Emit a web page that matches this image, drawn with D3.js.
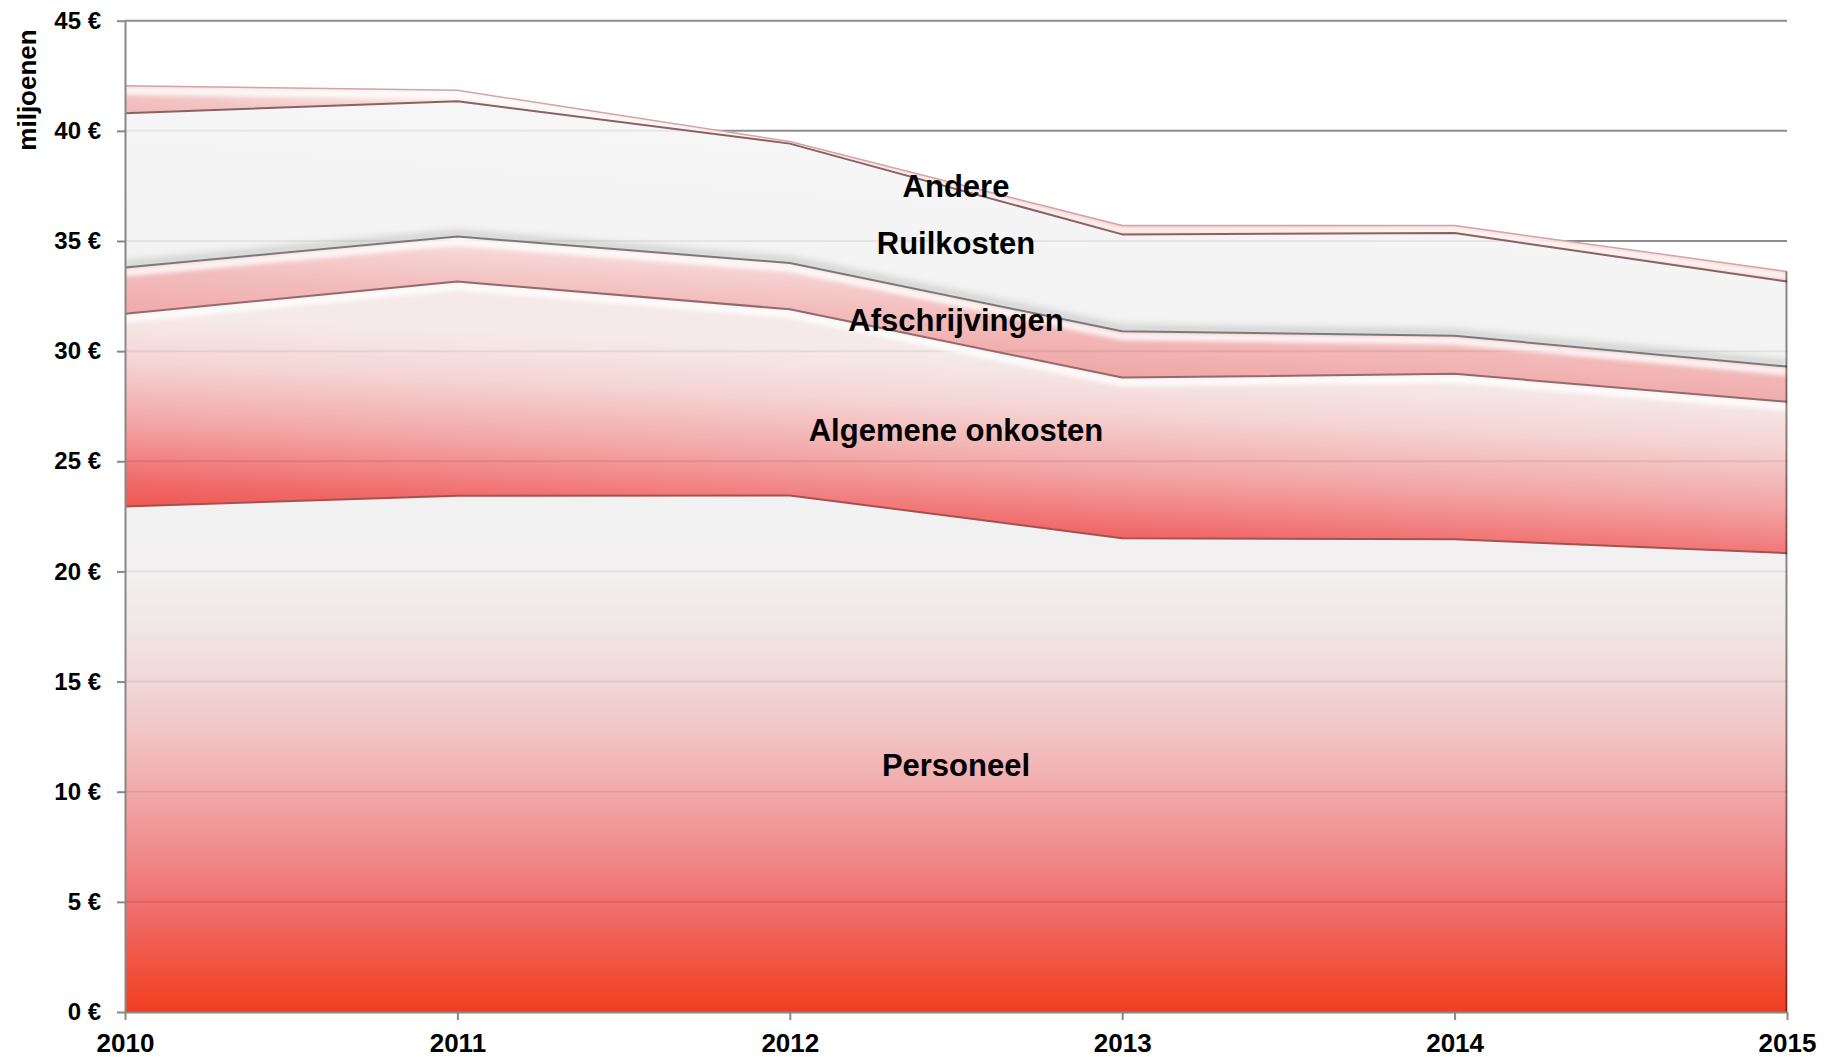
<!DOCTYPE html>
<html><head><meta charset="utf-8">
<script src="https://cdn.jsdelivr.net/npm/d3@7"></script>
<style>
html,body{margin:0;padding:0;background:#fff;}
svg{display:block;}
text{font-family:"Liberation Sans",Arial,Helvetica,sans-serif;font-weight:bold;fill:#000;}
</style></head><body>
<svg id="chart" width="1837" height="1057"></svg>
<script>
// ---------- data ----------
const years = [2010, 2011, 2012, 2013, 2014, 2015];
const seriesNames = ["Personeel", "Algemene onkosten", "Afschrijvingen", "Ruilkosten", "Andere"];
const personeel        = [22.95, 23.43, 23.45, 21.51, 21.46, 20.83];
const algemeneOnkosten = [8.75, 9.73, 8.45, 7.29, 7.51, 6.87];
const afschrijvingen   = [2.10, 2.04, 2.10, 2.10, 1.73, 1.60];
const ruilkosten       = [7.00, 6.14, 5.42, 4.40, 4.66, 3.86];
const andere           = [1.25, 0.50, 0.10, 0.40, 0.34, 0.46];
const yTickValues = [0, 5, 10, 15, 20, 25, 30, 35, 40, 45];
const yTickLabels = ["0 €", "5 €", "10 €", "15 €", "20 €", "25 €", "30 €", "35 €", "40 €", "45 €"];
const xTickLabels = ["2010", "2011", "2012", "2013", "2014", "2015"];
const yAxisTitle = "miljoenen";

// ---------- styles ----------
const OPACITY = 0.87;
const styles = {
  "Personeel": {tilt:0, stops:[[0,"#F03E1E"],[0.05,"#F04A30"],[0.11,"#F05848"],[0.21,"#F07070"],[0.32,"#F08E8E"],[0.43,"#F1AAAA"],[0.53,"#F2C2C2"],[0.64,"#F1D8D8"],[0.75,"#F1E7E7"],[0.85,"#F2F0F0"],[1,"#F2F2F2"]],
                highlight:false, edge:"#A85050"},
  "Algemene onkosten": {tilt:1.25, anchorLeft:true, stops:[[0,"#EF5850"],[0.12,"#F06868"],[0.25,"#F28282"],[0.45,"#F3A8A8"],[0.6,"#F4BEBE"],[0.75,"#F5D4D4"],[0.9,"#F5E2E2"],[1,"#F5E9E9"]],
                highlight:true, edge:"#946A6A"},
  "Afschrijvingen": {tilt:1, stops:[[0,"#F0A6A6"],[0.5,"#F3BDBD"],[0.85,"#F6D4D4"],[1,"#F8E8E8"]],
                highlight:true, edge:"#7A7A7A"},
  "Ruilkosten": {tilt:1, stops:[[0,"#F2F2F2"],[1,"#F6F6F6"]],
                highlight:false, shadowBottom:true, edge:"#8A6262"},
  "Andere": {tilt:1, stops:[[0,"#F0AEAE"],[0.45,"#F3C4C4"],[1,"#FBF2F2"]],
                highlight:true, edge:"#D4A4A4"}
};
function pre(hex){
  const c = d3.rgb(hex);
  const f = v => Math.max(0, Math.min(255, (v - 255*(1-OPACITY))/OPACITY));
  return d3.rgb(f(c.r), f(c.g), f(c.b)).formatHex();
}

// ---------- build ----------
const rows = years.map((yr, i) => ({
  year: yr,
  "Personeel": personeel[i],
  "Algemene onkosten": algemeneOnkosten[i],
  "Afschrijvingen": afschrijvingen[i],
  "Ruilkosten": ruilkosten[i],
  "Andere": andere[i]
}));
const stacked = d3.stack().keys(seriesNames)(rows);

const svg = d3.select("#chart");
const x = d3.scaleLinear().domain([2010, 2015]).range([125, 1787]);
const y = d3.scaleLinear().domain([0, 45]).range([1012, 20.7]);

const defs = svg.append("defs");
defs.append("filter").attr("id","blur2").attr("filterUnits","userSpaceOnUse")
  .attr("x",0).attr("y",0).attr("width",1837).attr("height",1057)
  .append("feGaussianBlur").attr("stdDeviation",2);
defs.append("filter").attr("id","blur3").attr("filterUnits","userSpaceOnUse")
  .attr("x",0).attr("y",0).attr("width",1837).attr("height",1057)
  .append("feGaussianBlur").attr("stdDeviation",3);

// gridlines
svg.append("g").selectAll("line").data(yTickValues.filter(v => v > 0)).join("line")
  .attr("x1", x(2010)).attr("x2", x(2015))
  .attr("y1", d => y(d)).attr("y2", d => y(d))
  .attr("stroke", "#8C8C8C").attr("stroke-width", 2);

const area = d3.area().x(d => x(d.data.year)).y0(d => y(d[0])).y1(d => y(d[1]));
const topLine = d3.line().x(d => x(d.data.year)).y(d => y(d[1]));
const botLine = d3.line().x(d => x(d.data.year)).y(d => y(d[0]));

const layers = svg.append("g");
stacked.forEach((S, k) => {
  const st = styles[S.key];
  const id = "g" + k;
  const n = S.length;
  const xL = x(years[0]), xR = x(years[n-1]);
  let s = 0;
  if (st.tilt) {
    const mL = (y(S[0][0]) + y(S[0][1]))/2, mR = (y(S[n-1][0]) + y(S[n-1][1]))/2;
    s = st.tilt * (mR - mL)/(xR - xL);
  }
  const uB = S.map(d => y(d[0]) - s*(x(d.data.year) - xL));
  const uT = S.map(d => y(d[1]) - s*(x(d.data.year) - xL));
  const u0 = st.anchorLeft ? uB[0] : d3.max(uB);
  const u1 = st.anchorLeft ? uT[0] : d3.min(uT);
  const kk = (u0 - u1)/(1 + s*s);
  const grad = defs.append("linearGradient").attr("id", id).attr("gradientUnits","userSpaceOnUse")
    .attr("x1", xL).attr("y1", u0).attr("x2", xL + s*kk).attr("y2", u0 - kk);
  st.stops.forEach(([o, c]) => grad.append("stop").attr("offset", o).attr("stop-color", pre(c)));

  defs.append("clipPath").attr("id", "clip" + k).append("path").attr("d", area(S));

  layers.append("path").attr("d", area(S)).attr("fill", `url(#${id})`).attr("fill-opacity", OPACITY);

  if (st.highlight) {
    layers.append("g").attr("clip-path", `url(#clip${k})`)
      .append("path").attr("d", topLine(S)).attr("transform","translate(0,5)")
      .attr("fill","none").attr("stroke","#fff").attr("stroke-width",8)
      .attr("stroke-opacity",0.8).attr("filter","url(#blur2)");
  }
  if (st.shadowBottom) {
    layers.append("g").attr("clip-path", `url(#clip${k})`)
      .append("path").attr("d", botLine(S)).attr("transform","translate(0,-3)")
      .attr("fill","none").attr("stroke","#000").attr("stroke-width",8)
      .attr("stroke-opacity",0.13).attr("filter","url(#blur3)");
  }
});
// boundary lines
stacked.forEach(S => {
  const st = styles[S.key];
  layers.append("path").attr("d", topLine(S)).attr("fill","none")
    .attr("stroke", st.edge).attr("stroke-width", S.key === "Andere" ? 1.5 : 2)
    .attr("stroke-linejoin","round");
});
// right edge of the stack
const last = stacked[stacked.length-1][years.length-1];
layers.append("line").attr("x1", x(2015)-0.5).attr("x2", x(2015)-0.5)
  .attr("y1", y(0)).attr("y2", y(last[1]))
  .attr("stroke","#000").attr("stroke-opacity",0.45).attr("stroke-width",2);

// axes
const yAxis = d3.axisLeft(y).tickValues(yTickValues).tickFormat((d, i) => yTickLabels[i])
  .tickSize(8).tickSizeOuter(0).tickPadding(16);
const gy = svg.append("g").attr("transform", `translate(${x(2010)},0)`).call(yAxis);
gy.selectAll("path,line").attr("stroke","#888").attr("stroke-width",2);
gy.selectAll("text").style("font-size","24px").attr("fill","#000")
  .style("font-family",'"Liberation Sans",Arial,sans-serif').style("font-weight","bold");

const xAxis = d3.axisBottom(x).tickValues(years).tickFormat((d, i) => xTickLabels[i])
  .tickSize(8).tickSizeOuter(0).tickPadding(13.5);
const gx = svg.append("g").attr("transform", `translate(0,${y(0)})`).call(xAxis);
gx.selectAll("path,line").attr("stroke","#888").attr("stroke-width",2);
gx.selectAll("text").style("font-size","26px").attr("fill","#000")
  .style("font-family",'"Liberation Sans",Arial,sans-serif').style("font-weight","bold");

// axis title
svg.append("text").attr("transform","translate(36,90) rotate(-90)")
  .attr("text-anchor","middle").style("font-size","26px").text(yAxisTitle);

// series labels at the middle between 2012 and 2013
const iA = years.indexOf(2012), iB = years.indexOf(2013);
const lx = (x(years[iA]) + x(years[iB]))/2;
svg.append("g").selectAll("text").data(stacked).join("text")
  .attr("x", lx)
  .attr("y", S => y(((S[iA][0]+S[iA][1])/2 + (S[iB][0]+S[iB][1])/2)/2))
  .attr("dy","0.36em").attr("text-anchor","middle").style("font-size","31px")
  .text(S => S.key);
</script>
</body></html>
